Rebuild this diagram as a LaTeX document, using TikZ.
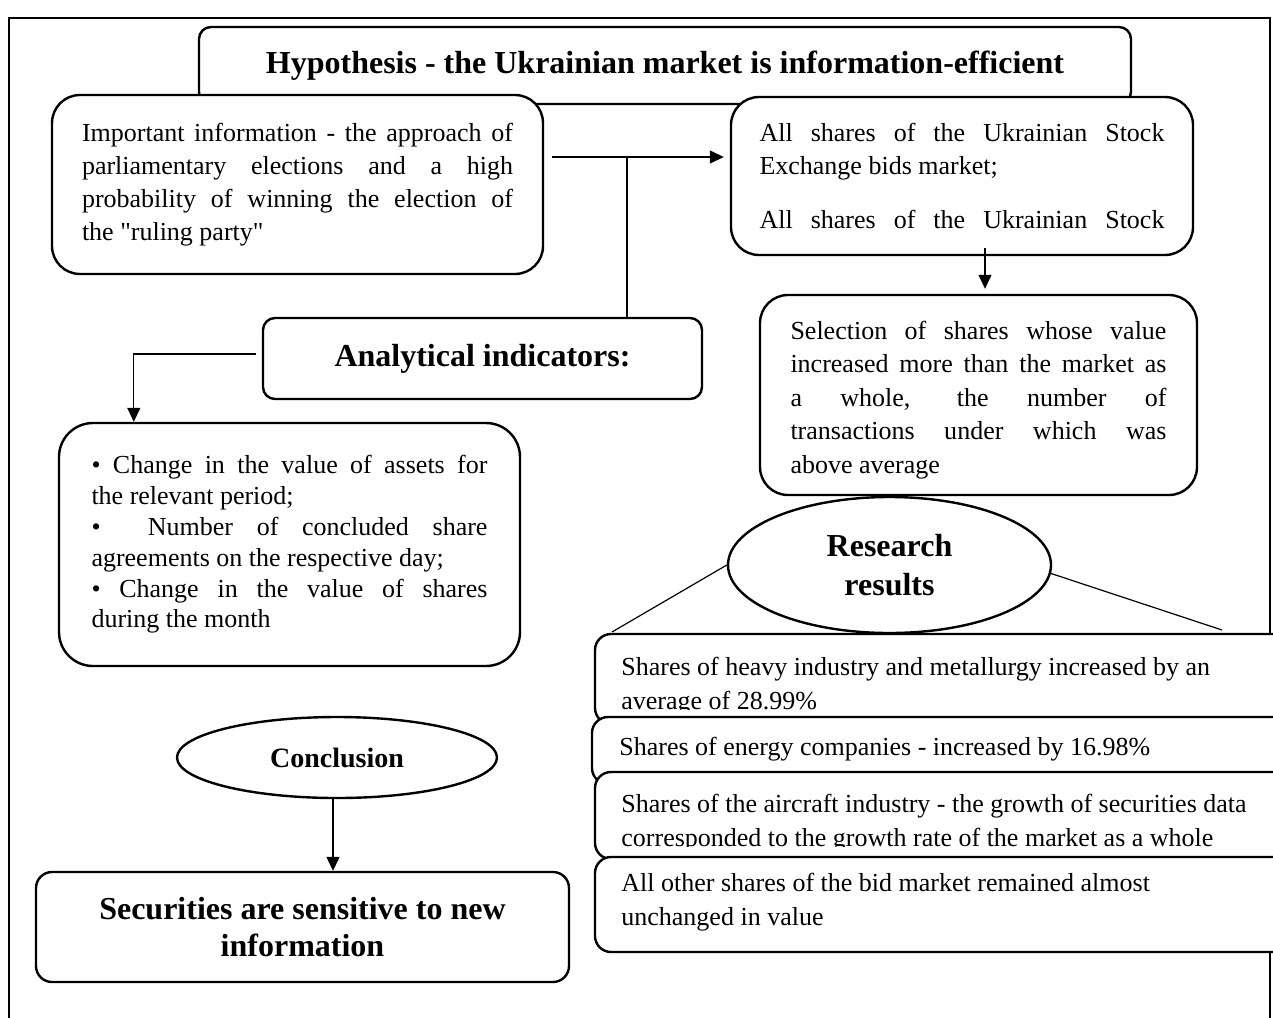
\documentclass[tikz,border=0pt]{standalone}
\usepackage{fontspec}
\setmainfont{Liberation Serif}
\newfontfamily\plainquote{Liberation Serif}
\usetikzlibrary{arrows.meta,shapes.geometric,calc}
\hbadness=10000
\begin{document}
\begin{tikzpicture}[x=0.5pt,y=-0.5pt,
  box/.style={draw,line width=1.2pt,fill=white,rounded corners=#1,inner sep=0pt},
  box/.default=7pt,
  ell/.style={draw,ellipse,line width=1.2pt,fill=white,inner sep=0pt},
  conn/.style={line width=0.6pt},
  arr/.style={conn,-{Triangle[length=7pt,width=6.5pt]}},
  body/.style={font=\fontsize{13}{16.5}\selectfont},
  bhead/.style={font=\fontsize{16}{19.5}\selectfont\bfseries},
  rtext/.style={font=\fontsize{13}{17}\selectfont,align=left,inner sep=0pt,anchor=north west},
]
\useasboundingbox (0,0) rectangle (1273,1017);
\clip (0,0) rectangle (1273,1017);
% outer frame
\draw[line width=1pt] (9,1040) -- (9,18) -- (1270,18) -- (1270,1040);

% title
\node[box=6pt,minimum width=466pt,minimum height=38.5pt,bhead] (hyp) at (665,65.5)
  {Hypothesis - the Ukrainian market is information-efficient};

% important information
\node[box=14pt,minimum width=245.5pt,minimum height=89.5pt,body,text width=215.5pt,align=justify] (imp) at (297.5,184.5)
  {Important information - the approach of\linebreak parliamentary elections and a high\linebreak probability of winning the election of\linebreak the {\plainquote"}ruling party{\plainquote"}};

% all shares
\node[box=14pt,minimum width=231pt,minimum height=79pt,body,text width=202.5pt,align=justify] (allsh) at (962,176)
  {All shares of the Ukrainian Stock\linebreak Exchange bids market;\par\vspace{10.5pt}{\parfillskip=0pt All shares of the Ukrainian Stock\par}};

% selection
\node[box=14pt,minimum width=218.5pt,minimum height=100pt,font=\fontsize{13}{16.75}\selectfont,text width=188pt,text height=14pt,align=justify] (sel) at (978.5,395)
  {Selection of shares whose value\linebreak increased more than the market as\linebreak a whole, the number of\linebreak transactions under which was\linebreak above average};

% analytical indicators
\node[box=6pt,minimum width=219.5pt,minimum height=40.5pt,bhead] (ana) at (482.5,358.5) {Analytical indicators:};

% bullets
\node[box=17pt,minimum width=230.5pt,minimum height=121.5pt,font=\fontsize{13}{15.4}\selectfont,text width=198pt,align=justify] (bul) at (289.5,544.5)
  {• Change in the value of assets for\linebreak the relevant period;\\ •\ \ Number of concluded share\linebreak agreements on the respective day;\\ • Change in the value of shares\linebreak during the month};

% research results
\node[ell,minimum width=161.5pt,minimum height=68pt,bhead,align=center] (res) at (889.5,565) {Research\\results};
\coordinate (rl) at (612,632);
\coordinate (rr) at (1222,630);
\draw[conn] (res.west) -- (rl);
\draw[conn] (res.-3) -- (rr);

% result boxes
\node[box=8pt,minimum width=352.5pt,minimum height=45pt] (r1) at (947.5,679) {};
\begin{scope}
  \clip (597,636) rectangle (1273,709);
  \node[rtext] (t1) at (621,657) {Shares of heavy industry and metallurgy increased by an\\average of 28.99\%};
\end{scope}
\node[box=8pt,minimum width=354pt,minimum height=33.5pt] (r2) at (946,750.5) {};
\node[rtext] (t2) at (619,737) {Shares of energy companies - increased by 16.98\%};
\node[box=8pt,minimum width=352.5pt,minimum height=43.5pt] (r3) at (947.5,815.5) {};
\begin{scope}
  \clip (597,774) rectangle (1273,846);
  \node[rtext] (t3) at (621,794) {Shares of the aircraft industry - the growth of securities data\\corresponded to the growth rate of the market as a whole};
\end{scope}
\node[box=8pt,minimum width=352.5pt,minimum height=47.5pt] (r4) at (947.5,904.5) {};
\node[rtext] (t4) at (621,873) {All other shares of the bid market remained almost\\unchanged in value};

% conclusion
\node[ell,minimum width=160pt,minimum height=40.5pt,font=\fontsize{14}{17}\selectfont\bfseries] (conc) at (337,757.5) {Conclusion};
\node[box=8pt,minimum width=266.5pt,minimum height=55pt,font=\fontsize{16}{18.5}\selectfont\bfseries,align=center] (sec) at (302.5,927)
  {Securities are sensitive to new\\information};

% connectors
\coordinate (jn) at (627,157);
\draw[arr,shorten >=3pt] ([xshift=4pt]imp.east |- jn) -- (allsh.west |- jn);
\draw[conn] (jn) -- (ana.north -| jn);
\draw[arr,shorten >=2.5pt] ([xshift=3.25pt,yshift=4pt]allsh.south -| sel.north) -- ([xshift=3.25pt]sel.north);
\draw[arr] ([xshift=-3pt,yshift=2.25pt]ana.west) -| ([xshift=38pt]bul.north west);
\draw[arr] ([xshift=-2pt]conc.south) -- ([xshift=-2pt]conc.south |- sec.north);
\end{tikzpicture}
\end{document}
